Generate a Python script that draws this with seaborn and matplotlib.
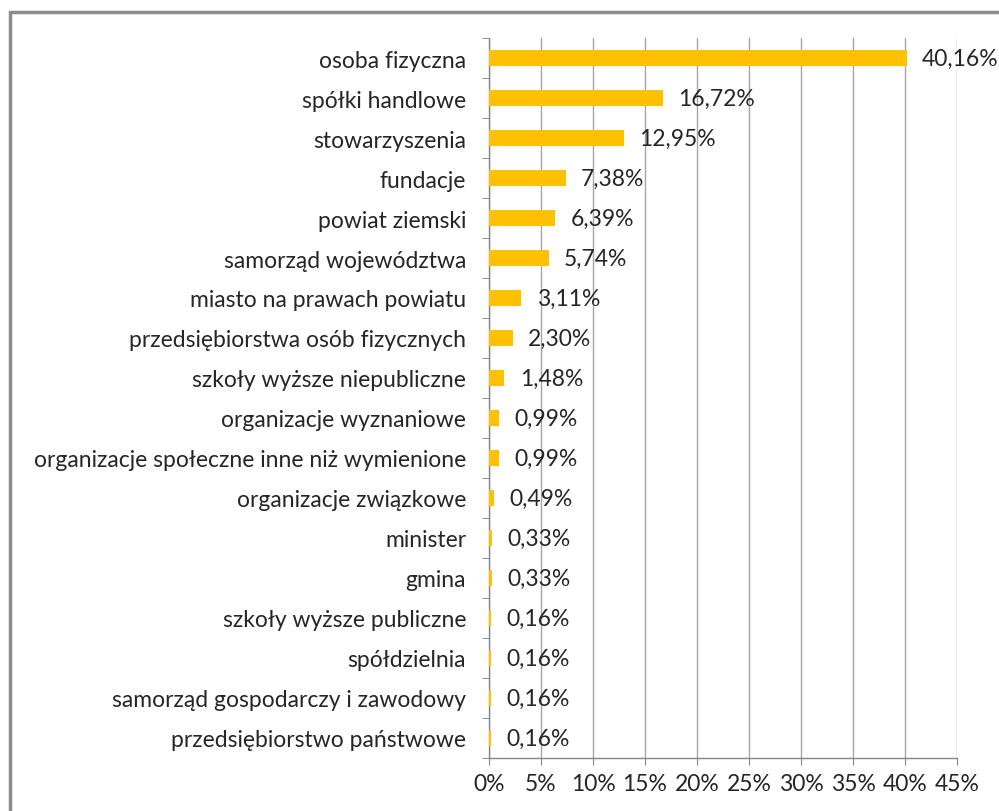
import numpy as np
import pandas as pd
import matplotlib
matplotlib.use('Agg')
import matplotlib.pyplot as plt
import matplotlib.patches as patches
from matplotlib.ticker import FixedLocator, FuncFormatter
import seaborn as sns

# Data
categories = [
    'osoba fizyczna', 'spółki handlowe', 'stowarzyszenia', 'fundacje',
    'powiat ziemski', 'samorząd województwa', 'miasto na prawach powiatu',
    'przedsiębiorstwa osób fizycznych', 'szkoły wyższe niepubliczne',
    'organizacje wyznaniowe', 'organizacje społeczne inne niż wymienione',
    'organizacje związkowe', 'minister', 'gmina', 'szkoły wyższe publiczne',
    'spółdzielnia', 'samorząd gospodarczy i zawodowy', 'przedsiębiorstwo państwowe',
]
shares = [40.16, 16.72, 12.95, 7.38, 6.39, 5.74, 3.11, 2.30, 1.48,
          0.99, 0.99, 0.49, 0.33, 0.33, 0.16, 0.16, 0.16, 0.16]
x_ticks = [0, 5, 10, 15, 20, 25, 30, 35, 40, 45]

df = pd.DataFrame({'kategoria': categories, 'udzial': shares})

sns.set_style('white')
plt.rcParams['font.family'] = ['Lato', 'DejaVu Sans']

fig = plt.figure(figsize=(9.99, 8.12), dpi=100)
ax = fig.add_axes([489 / 999, 1 - 759 / 812, (957 - 489) / 999, 720 / 812])

sns.barplot(data=df, y='kategoria', x='udzial', color='#FFC000',
            width=0.38, saturation=1, linewidth=0, edgecolor='none',
            ax=ax, zorder=3)

ax.set_xlim(0, 45)
ax.set_ylim(len(categories) - 0.5, -0.5)
ax.xaxis.set_major_locator(FixedLocator(x_ticks))
ax.xaxis.set_major_formatter(FuncFormatter(lambda v, p: f'{int(v)}%'))
ax.grid(axis='x', color='#A6A6A6', linewidth=1, zorder=0)
ax.set_axisbelow(True)
ax.set_xlabel('')
ax.set_ylabel('')

for s in ['top', 'right']:
    ax.spines[s].set_visible(False)
for s in ['left', 'bottom']:
    ax.spines[s].set_color('#868686')
    ax.spines[s].set_linewidth(1)

ax.tick_params(axis='x', which='major', length=5, color='#868686',
               labelsize=16.5, labelcolor='#262626', pad=6, bottom=True)
ax.tick_params(axis='y', which='major', length=0, labelsize=16.5,
               labelcolor='#262626', pad=16.5)
ax.yaxis.set_minor_locator(FixedLocator(np.arange(-0.5, len(categories), 1)))
ax.tick_params(axis='y', which='minor', length=5, color='#868686', left=True)

for i, v in enumerate(shares):
    ax.annotate(f'{v:.2f}%'.replace('.', ','), xy=(v, i), xytext=(11, 0),
                textcoords='offset points', va='center', ha='left',
                fontsize=16.5, color='#262626', zorder=4)

fig.patches.append(patches.Rectangle((10 / 999, -0.1), 1.2, 1 - 13 / 812 + 0.1,
                                     transform=fig.transFigure, fill=False,
                                     edgecolor='#8C8C8C', linewidth=2.5))

fig.savefig('out.png', dpi=100)
